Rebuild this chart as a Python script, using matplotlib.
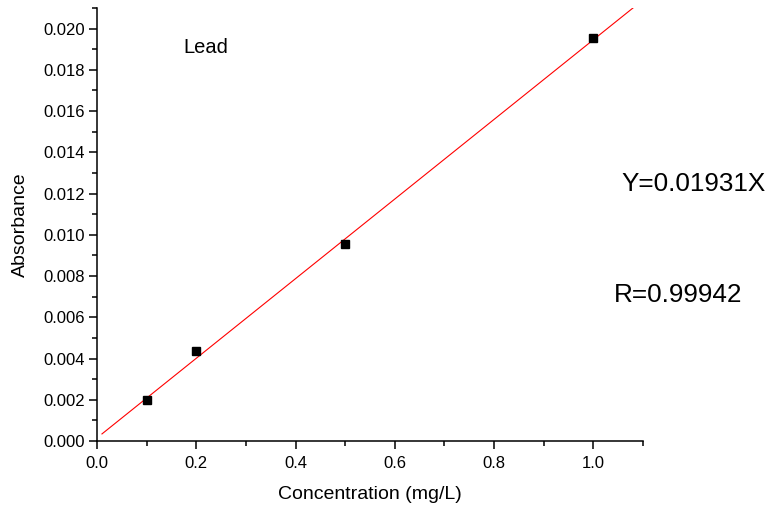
import matplotlib
matplotlib.use("Agg")
import matplotlib.pyplot as plt
import numpy as np
from matplotlib.ticker import MultipleLocator

plt.rcParams['font.family'] = ['Liberation Sans', 'DejaVu Sans']

conc = [0.1, 0.2, 0.5, 1.0]
absorb = [0.00197, 0.00435, 0.00955, 0.01955]
slope = 0.01931
intercept = 0.00015
fit_x = [0.01, 1.1]

W, H = 772, 508
fig = plt.figure(figsize=(W / 100, H / 100), dpi=100)
ax = fig.add_axes([97 / W, (H - 441) / H, (643 - 97) / W, (441 - 8) / H])

fx = np.array(fit_x)
ax.plot(fx, intercept + slope * fx, color='red', lw=0.8)
ax.plot(conc, absorb, 's', color='black', ms=6.2, zorder=3)

ax.set_xlim(0, 1.1)
ax.set_ylim(0, 0.021)
ax.xaxis.set_major_locator(MultipleLocator(0.2))
ax.xaxis.set_minor_locator(MultipleLocator(0.1))
ax.yaxis.set_major_locator(MultipleLocator(0.002))
ax.yaxis.set_minor_locator(MultipleLocator(0.001))
ax.xaxis.set_major_formatter(matplotlib.ticker.FormatStrFormatter('%.1f'))
ax.yaxis.set_major_formatter(matplotlib.ticker.FormatStrFormatter('%.3f'))
for s in ['top', 'right']:
    ax.spines[s].set_visible(False)
for s in ['left', 'bottom']:
    ax.spines[s].set_linewidth(1.1)
ax.tick_params(which='major', direction='out', length=5.5, width=1.1, labelsize=12)
ax.tick_params(which='minor', direction='out', length=3.5, width=1.1)
ax.tick_params(axis='x', which='major', pad=5)

ax.set_xlabel('Concentration (mg/L)', fontsize=14, labelpad=11)
ax.set_ylabel('Absorbance', fontsize=14, labelpad=10)

fig.text(183 / W, 1 - 47 / H, 'Lead', fontsize=14.5, va='center', ha='left')
fig.text(621 / W, 1 - 184 / H, 'Y=0.01931X', fontsize=18.8, va='center', ha='left')
fig.text(614 / W, 1 - 295 / H, 'R=0.99942', fontsize=18.8, va='center', ha='left')

fig.savefig('out.png', dpi=100)
